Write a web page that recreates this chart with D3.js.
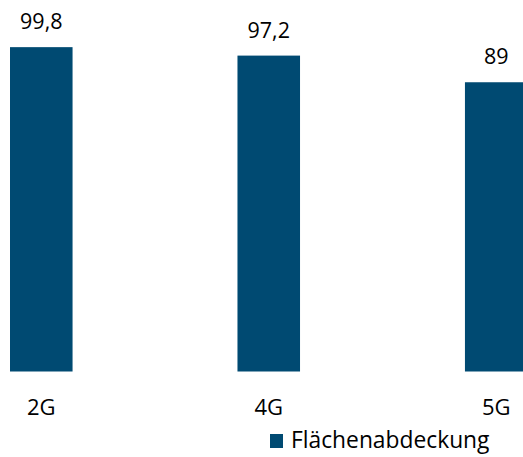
<!DOCTYPE html>
<html><head><meta charset="utf-8">
<script src="https://cdn.jsdelivr.net/npm/d3@7"></script>
<style>html,body{margin:0;padding:0;background:#fff;overflow:hidden}</style>
</head><body>
<svg id="c" width="523" height="457"></svg>
<script>
const categories = ["2G", "4G", "5G"];
const values = [99.8, 97.2, 89];
const valueLabels = ["99,8", "97,2", "89"];
const seriesName = "Flächenabdeckung";

const color = "#004a72";
const font = "'Open Sans', sans-serif";
const svg = d3.select("#c");

const x = d3.scaleBand().domain(categories).range([10, 527.5]).paddingInner(0.725).paddingOuter(0);
const y = d3.scaleLinear().domain([0, 100]).range([371.5, 46.5]);

svg.selectAll("rect.bar").data(categories).join("rect")
  .attr("class", "bar")
  .attr("x", d => x(d))
  .attr("width", x.bandwidth())
  .attr("y", (d, i) => y(values[i]))
  .attr("height", (d, i) => y(0) - y(values[i]))
  .attr("fill", color);

svg.selectAll("text.val").data(categories).join("text")
  .attr("class", "val")
  .attr("x", d => x(d) + x.bandwidth() / 2)
  .attr("y", (d, i) => y(values[i]) - 18)
  .attr("text-anchor", "middle")
  .attr("font-family", font)
  .attr("font-size", 21.5)
  .attr("fill", "#000")
  .text((d, i) => valueLabels[i]);

const xAxis = d3.axisBottom(x).tickSize(0).tickPadding(0);
const gx = svg.append("g").attr("transform", `translate(0,${y(0)})`).call(xAxis);
gx.select(".domain").remove();
gx.selectAll("text")
  .attr("y", 43.5).attr("dy", 0)
  .attr("font-family", font).attr("font-size", 22).attr("fill", "#000");

const lg = svg.append("g").attr("transform", "translate(270,434)");
lg.append("rect").attr("width", 13).attr("height", 14).attr("fill", color);
lg.append("text").attr("x", 21).attr("y", 14)
  .attr("font-family", font).attr("font-size", 22.8).attr("fill", "#000")
  .text(seriesName);
</script>
</body></html>
